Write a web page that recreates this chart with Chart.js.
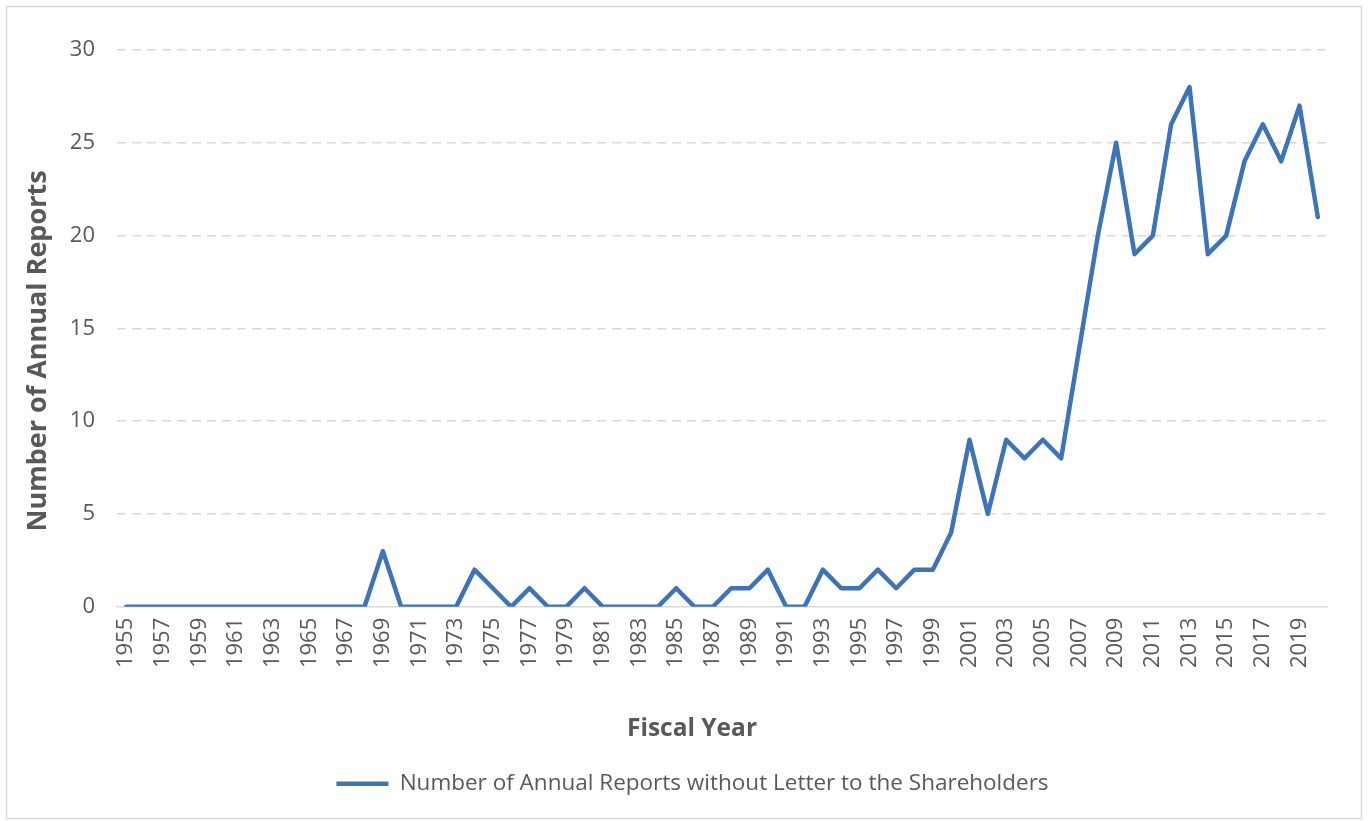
<!DOCTYPE html>
<html>
<head>
<meta charset="utf-8">
<script src="https://cdn.jsdelivr.net/npm/chart.js@4"></script>
<style>
  html, body { margin: 0; padding: 0; background: #fff; }
  #wrap { position: absolute; left: 0; top: 0; width: 1368px; height: 821px; }
</style>
</head>
<body>
<div id="wrap"><canvas id="c" width="1368" height="821"></canvas></div>
<script>
const categories = ["1955","1956","1957","1958","1959","1960","1961","1962","1963","1964",
  "1965","1966","1967","1968","1969","1970","1971","1972","1973","1974",
  "1975","1976","1977","1978","1979","1980","1981","1982","1983","1984",
  "1985","1986","1987","1988","1989","1990","1991","1992","1993","1994",
  "1995","1996","1997","1998","1999","2000","2001","2002","2003","2004",
  "2005","2006","2007","2008","2009","2010","2011","2012","2013","2014",
  "2015","2016","2017","2018","2019","2020"];
const values = [0,0,0,0,0,0,0,0,0,0,
  0,0,0,0,3,0,0,0,0,2,
  1,0,1,0,0,1,0,0,0,0,
  1,0,0,1,1,2,0,0,2,1,
  1,2,1,2,2,4,9,5,9,8,
  9,8,14,20,25,19,20,26,28,19,
  20,24,26,24,27,21];
const yTicks = [0,5,10,15,20,25,30];
const seriesName = "Number of Annual Reports without Letter to the Shareholders";
const xTitle = "Fiscal Year";
const yTitle = "Number of Annual Reports";

const FONT = "'Open Sans', 'DejaVu Sans', sans-serif";
const GRAY = '#595959';

const decorPlugin = {
  id: 'decor',
  beforeDraw(chart) {
    const ctx = chart.ctx;
    ctx.save();
    ctx.fillStyle = '#fff';
    ctx.fillRect(0, 0, chart.width, chart.height);
    ctx.strokeStyle = '#d9d9d9';
    ctx.lineWidth = 1.5;
    ctx.strokeRect(6.5, 6.5, 1355, 812);
    ctx.restore();
  },
  afterLayout(chart) {
    const lg = chart.legend;
    if (lg) { lg.left -= 6; lg.right -= 6; }
  },
  afterDraw(chart) {
    const ctx = chart.ctx;
    ctx.save();
    ctx.fillStyle = GRAY;
    ctx.textAlign = 'center';
    ctx.textBaseline = 'middle';
    ctx.font = "bold 27px " + FONT;
    ctx.translate(38, 351);
    ctx.rotate(-Math.PI / 2);
    ctx.fillText(yTitle, 0, 0);
    ctx.restore();
    ctx.save();
    ctx.fillStyle = GRAY;
    ctx.textAlign = 'center';
    ctx.textBaseline = 'middle';
    ctx.font = "bold 24.5px " + FONT;
    ctx.fillText(xTitle, 692, 729);
    ctx.restore();
  }
};

new Chart(document.getElementById('c'), {
  type: 'line',
  data: {
    labels: categories,
    datasets: [{
      label: seriesName,
      data: values,
      borderColor: '#3d73b9',
      backgroundColor: '#3d73b9',
      borderWidth: 4.5,
      pointRadius: 0,
      pointHoverRadius: 0,
      tension: 0,
      borderJoinStyle: 'round',
      borderCapStyle: 'round'
    }]
  },
  options: {
    responsive: false,
    animation: false,
    devicePixelRatio: 1,
    layout: { padding: { left: 70, right: 41, top: 50, bottom: 16 } },
    plugins: {
      legend: {
        position: 'bottom',
        labels: {
          color: GRAY,
          font: { family: FONT, size: 22.5 },
          usePointStyle: true,
          pointStyle: 'line',
          pointStyleWidth: 52,
          boxHeight: 10,
          padding: 8
        }
      },
      tooltip: { enabled: false }
    },
    scales: {
      x: {
        offset: true,
        afterFit: (s) => { s.paddingLeft = 0; s.paddingRight = 0; },
        grid: { display: false, drawTicks: false },
        border: { display: true, color: '#d9d9d9', width: 1.5 },
        ticks: {
          autoSkip: false,
          maxRotation: 90,
          minRotation: 90,
          color: GRAY,
          padding: 11,
          font: { family: FONT, size: 22 },
          callback: function(v, i) { return i % 2 === 0 ? categories[i] : ''; }
        },
        title: {
          display: true,
          text: ' ',
          color: 'rgba(0,0,0,0)',
          font: { family: FONT, size: 24.5, weight: 'bold' },
          padding: { top: 38, bottom: 18 }
        }
      },
      y: {
        min: 0,
        max: 30,
        afterBuildTicks: (scale) => { scale.ticks = yTicks.map(v => ({ value: v })); },
        afterFit: (s) => { s.width = 47; },
        grid: {
          color: (c) => c.tick && c.tick.value === 0 ? 'rgba(0,0,0,0)' : '#d9d9d9',
          lineWidth: 1.5,
          drawTicks: false
        },
        border: { display: false, dash: [9, 6] },
        ticks: {
          color: GRAY,
          padding: 22,
          font: { family: FONT, size: 22 }
        },
        title: { display: false }
      }
    }
  },
  plugins: [decorPlugin]
});
</script>
</body>
</html>
